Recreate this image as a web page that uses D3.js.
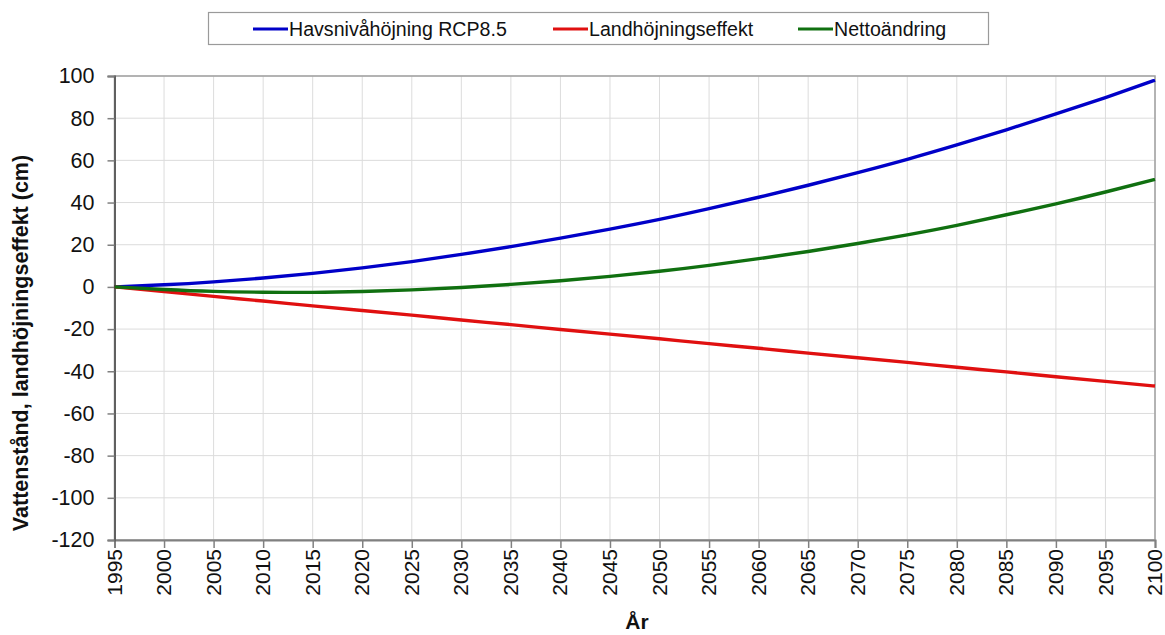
<!DOCTYPE html>
<html>
<head>
<meta charset="utf-8">
<script src="https://cdn.jsdelivr.net/npm/d3@7"></script>
<style>
  body { margin: 0; background: #fff; }
  svg { display: block; font-family: "Liberation Sans", Arial, sans-serif; }
</style>
</head>
<body>
<div id="container"></div>
<script>
/* DATA */
const years = [1995, 2000, 2005, 2010, 2015, 2020, 2025, 2030, 2035, 2040, 2045,
               2050, 2055, 2060, 2065, 2070, 2075, 2080, 2085, 2090, 2095, 2100];
const havsniva = [0, 1.0, 2.4, 4.2, 6.4, 9.0, 12.0, 15.4, 19.1, 23.1, 27.4,
                  32.0, 37.1, 42.5, 48.2, 54.2, 60.5, 67.3, 74.5, 82.0, 89.8, 98.0];
const landhojning = [0, -2.2, -4.5, -6.7, -9, -11.2, -13.4, -15.7, -17.9, -20.2, -22.4,
                     -24.6, -26.9, -29.1, -31.4, -33.6, -35.8, -38.1, -40.3, -42.6, -44.8, -47];
const netto = [0, -1.2, -2.1, -2.5, -2.6, -2.2, -1.4, -0.3, 1.2, 2.9, 5.0,
               7.4, 10.2, 13.4, 16.8, 20.6, 24.7, 29.2, 34.2, 39.4, 45.0, 51.0];
const seriesNames = ["Havsnivåhöjning RCP8.5", "Landhöjningseffekt", "Nettoändring"];
const yTicks = [100, 80, 60, 40, 20, 0, -20, -40, -60, -80, -100, -120];

/* CONSTANTS */
const width = 1165, height = 635;
const margin = { top: 76, bottom: 95, left: 114.5, right: 10 };
const colors = ["#0000c8", "#e01010", "#107010"];

/* SCALES */
const xScale = d3.scaleLinear()
  .domain([1995, 2100])
  .range([margin.left, width - margin.right]);

const yScale = d3.scaleLinear()
  .domain([-120, 100])
  .range([height - margin.bottom, margin.top]);

const svg = d3.select("#container")
  .append("svg")
  .attr("width", width)
  .attr("height", height);

// gridlines
svg.append("g")
  .selectAll("line")
  .data(years)
  .join("line")
  .attr("x1", d => xScale(d)).attr("x2", d => xScale(d))
  .attr("y1", margin.top).attr("y2", height - margin.bottom)
  .attr("stroke", "#dcdcdc").attr("stroke-width", 1);

svg.append("g")
  .selectAll("line")
  .data(yTicks)
  .join("line")
  .attr("x1", margin.left).attr("x2", width - margin.right)
  .attr("y1", d => yScale(d)).attr("y2", d => yScale(d))
  .attr("stroke", "#dcdcdc").attr("stroke-width", 1);

// plot border top/right
svg.append("rect")
  .attr("x", margin.left).attr("y", margin.top)
  .attr("width", width - margin.right - margin.left)
  .attr("height", height - margin.bottom - margin.top)
  .attr("fill", "none").attr("stroke", "#a0a0a0").attr("stroke-width", 1.5);

// axes
const xAxis = d3.axisBottom(xScale)
  .tickValues(years)
  .tickFormat(d => String(d))
  .tickSize(8);
const gx = svg.append("g")
  .attr("transform", `translate(0,${height - margin.bottom})`)
  .call(xAxis);
gx.select(".domain").attr("stroke", "#808080").attr("stroke-width", 2);
gx.selectAll(".tick line").attr("stroke", "#808080").attr("stroke-width", 1.5);
gx.selectAll(".tick text")
  .attr("font-size", 21)
  .attr("fill", "#111")
  .attr("transform", "rotate(-90)")
  .attr("text-anchor", "end")
  .attr("x", -9).attr("y", -1).attr("dy", "0.36em");

const yAxis = d3.axisLeft(yScale)
  .tickValues(yTicks)
  .tickFormat(d => String(d))
  .tickSize(7);
const gy = svg.append("g")
  .attr("transform", `translate(${margin.left},0)`)
  .call(yAxis);
gy.select(".domain").attr("stroke", "#606060").attr("stroke-width", 2);
gy.selectAll(".tick line").attr("stroke", "#808080").attr("stroke-width", 1.5);
gy.selectAll(".tick text")
  .attr("font-size", 21.5)
  .attr("fill", "#111")
  .attr("x", -20);

// lines
const allSeries = [havsniva, landhojning, netto];
const line = d3.line()
  .x((d, i) => xScale(years[i]))
  .y(d => yScale(d))
  .curve(d3.curveNatural);

svg.append("g")
  .selectAll("path")
  .data(allSeries)
  .join("path")
  .attr("d", d => line(d))
  .attr("fill", "none")
  .attr("stroke", (d, i) => colors[i])
  .attr("stroke-width", 3.4)
  .attr("stroke-linejoin", "round");

// axis titles
svg.append("text")
  .attr("transform", `translate(28,343) rotate(-90)`)
  .attr("text-anchor", "middle")
  .attr("font-size", 21.5)
  .attr("font-weight", "bold")
  .attr("fill", "#111")
  .text("Vattenstånd, landhöjningseffekt (cm)");

svg.append("text")
  .attr("x", 637)
  .attr("y", 629)
  .attr("text-anchor", "middle")
  .attr("font-size", 21)
  .attr("font-weight", "bold")
  .attr("fill", "#111")
  .text("År");

// legend
const legend = svg.append("g");
legend.append("rect")
  .attr("x", 208.5).attr("y", 12.5)
  .attr("width", 780).attr("height", 32)
  .attr("fill", "#fff").attr("stroke", "#9a9a9a").attr("stroke-width", 1.2);

const legendX = [253, 553, 798];
const items = legend.selectAll("g")
  .data(seriesNames)
  .join("g")
  .attr("transform", (d, i) => `translate(${legendX[i]},29)`);
items.append("line")
  .attr("x1", 0).attr("x2", 35)
  .attr("stroke", (d, i) => colors[i])
  .attr("stroke-width", 3);
items.append("text")
  .attr("x", 36).attr("dy", "0.35em")
  .attr("font-size", 19.6)
  .attr("fill", "#111")
  .text(d => d);
</script>
</body>
</html>
